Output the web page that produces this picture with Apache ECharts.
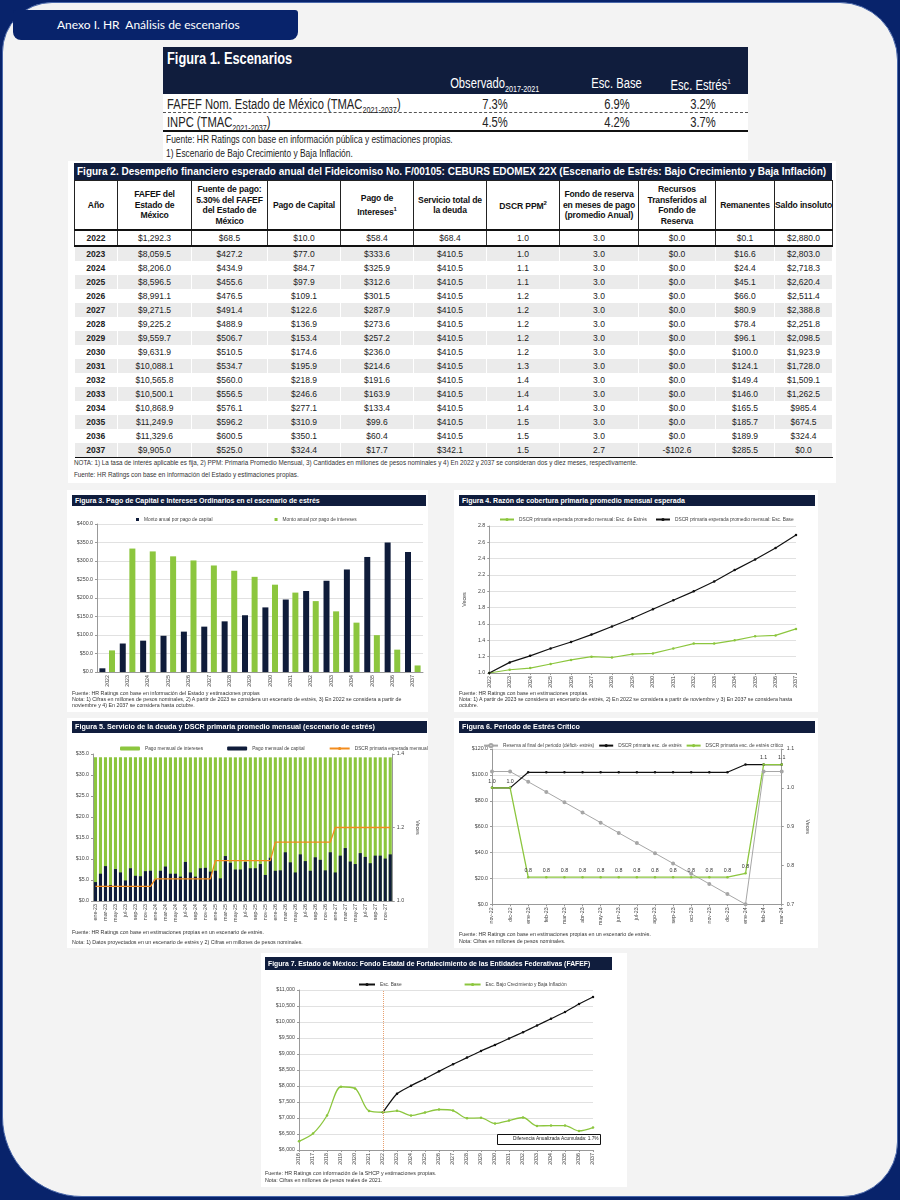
<!DOCTYPE html>
<html>
<head>
<meta charset="utf-8">
<script src="https://cdn.jsdelivr.net/npm/echarts@6/dist/echarts.min.js"></script>
<style>
body{margin:0;width:900px;height:1200px;background:#08236b;position:relative;overflow:hidden;font-family:"Liberation Sans",Arial,sans-serif}
.abs{position:absolute}
#panel{left:2px;top:2px;width:894px;height:1193px;background:#f3f3f3;border:1px solid #4a68aa;border-radius:50px 58px 55px 80px}
#tab{left:13px;top:10px;width:285px;height:30px;background:#08236b;border-radius:3px 3px 8px 8px;color:#fff;font:12px Lato,"Open Sans",sans-serif;line-height:30px;padding-left:44px;box-sizing:border-box;white-space:pre}
.fig{background:#fff}
.tbar{background:#101d3d;color:#fff;font-weight:bold;white-space:nowrap;overflow:hidden;box-sizing:border-box;padding-left:3px}
.note{font-size:5.3px;color:#333;white-space:nowrap;line-height:7px}
.nw{white-space:nowrap}
.nw span{display:inline-block;transform:scaleX(0.8)}
#t2{border-collapse:collapse;table-layout:fixed;width:758px;font-family:"Liberation Sans",Arial,sans-serif}
#t2 td{text-align:center;font-size:8.5px;color:#222;padding:0;height:14px;border-right:1px solid #fff;white-space:nowrap}
#t2 tr.hd td{font-weight:bold;font-size:8.6px;line-height:10.5px;border:1px solid #222;border-bottom:2px solid #111;height:48px;color:#111;white-space:nowrap;letter-spacing:-0.15px}
#t2 tr.r22 td{border:1px solid #333;border-bottom:2px solid #111}
#t2 tr.g td{background:#ebebeb}
#t2 td.y{font-weight:bold}
</style>
</head>
<body>
<div id="panel" class="abs"></div>
<div id="tab" class="abs">Anexo I. HR  Análisis de escenarios</div>

<div id="f1" class="abs fig" style="left:163px;top:47px;width:585px;height:113px"></div>

<div class="abs fig" style="left:68px;top:161px;width:768px;height:322px"></div>
<div class="abs tbar" style="left:74px;top:163px;width:758px;height:17px;font-size:10px;line-height:17px">Figura 2. Desempeño financiero esperado anual del Fideicomiso No. F/00105: CEBURS EDOMEX 22X (Escenario de Estrés: Bajo Crecimiento y Baja Inflación)</div>
<table id="t2" class="abs" style="left:74px;top:180px"></table>
<div class="abs note" style="left:74px;top:459px;font-size:6.3px">NOTA: 1) La tasa de interés aplicable es fija, 2) PPM: Primaria Promedio Mensual, 3) Cantidades en millones de pesos nominales y 4) En 2022 y 2037 se consideran dos y diez meses, respectivamente.</div>
<div class="abs note" style="left:74px;top:471px;font-size:6.3px">Fuente: HR Ratings con base en información del Estado y estimaciones propias.</div>

<div class="abs fig" style="left:67px;top:490px;width:361px;height:222px"></div>
<div class="abs tbar" style="left:72px;top:495px;width:354px;height:11px;font-size:7px;line-height:11px">Figura 3. Pago de Capital e Intereses Ordinarios en el escenario de estrés</div>
<div id="c3" class="abs" style="left:67px;top:506px;width:361px;height:186px"></div>
<div class="abs note" style="left:72px;top:690px">Fuente: HR Ratings con base en información del Estado y estimaciones propias</div>
<div class="abs note" style="left:72px;top:696px">Nota: 1) Cifras en millones de pesos nominales, 2) A partir de 2023 se considera un escenario de estrés, 3) En 2022 se considera a partir de</div>
<div class="abs note" style="left:72px;top:702px">noviembre y 4) En 2037 se considera hasta octubre.</div>

<div class="abs fig" style="left:454px;top:490px;width:364px;height:222px"></div>
<div class="abs tbar" style="left:459px;top:495px;width:356px;height:11px;font-size:7px;line-height:11px">Figura 4. Razón de cobertura primaria promedio mensual esperada</div>
<div id="c4" class="abs" style="left:454px;top:506px;width:364px;height:186px"></div>
<div class="abs note" style="left:459px;top:690px">Fuente: HR Ratings con base en estimaciones propias.</div>
<div class="abs note" style="left:459px;top:696px">Nota: 1) A partir de 2023 se considera un escenario de estrés, 2) En 2022 se considera a partir de noviembre y 3) En 2037 se considera hasta</div>
<div class="abs note" style="left:459px;top:702px">octubre.</div>

<div class="abs fig" style="left:67px;top:718px;width:361px;height:230px"></div>
<div class="abs tbar" style="left:72px;top:721px;width:355px;height:12px;font-size:7.2px;line-height:12px">Figura 5. Servicio de la deuda y DSCR primaria promedio mensual (escenario de estrés)</div>
<div id="c5" class="abs" style="left:67px;top:734px;width:361px;height:192px"></div>
<div class="abs note" style="left:72px;top:929px">Fuente: HR Ratings con base en estimaciones propias en un escenario de estrés.</div>
<div class="abs note" style="left:72px;top:939px">Nota: 1) Datos proyectados en un escenario de estrés y 2) Cifras en millones de pesos nominales.</div>

<div class="abs fig" style="left:454px;top:718px;width:364px;height:230px"></div>
<div class="abs tbar" style="left:459px;top:721px;width:356px;height:12px;font-size:7.2px;line-height:12px">Figura 6. Periodo de Estrés Crítico</div>
<div id="c6" class="abs" style="left:454px;top:734px;width:364px;height:194px"></div>
<div class="abs note" style="left:459px;top:931px">Fuente: HR Ratings con base en estimaciones propias en un escenario de estrés.</div>
<div class="abs note" style="left:459px;top:938px">Nota: Cifras en millones de pesos nominales.</div>

<div class="abs fig" style="left:261px;top:953px;width:366px;height:234px"></div>
<div class="abs tbar" style="left:265px;top:957px;width:347px;height:13px;font-size:6.8px;line-height:13px">Figura 7. Estado de México: Fondo Estatal de Fortalecimiento de las Entidades Federativas  (FAFEF)</div>
<div id="c7" class="abs" style="left:261px;top:970px;width:366px;height:200px"></div>
<div class="abs note" style="left:265px;top:1170px">Fuente: HR Ratings con información de la SHCP y estimaciones propias.</div>
<div class="abs note" style="left:265px;top:1177px">Nota: Cifras en millones de pesos reales de 2021.</div>

<script>
// Figura 1
const fig1Labels = ['FAFEF Nom. Estado de México (TMAC', 'INPC (TMAC'];
const fig1Subs = ['2021-2037', '2021-2037'];
const fig1Obs = [7.3, 4.5];
const fig1Base = [6.9, 4.2];
const fig1Estres = [3.2, 3.7];

// Figura 2 (tabla anual)
const anios = [2022, 2023, 2024, 2025, 2026, 2027, 2028, 2029, 2030, 2031, 2032, 2033, 2034, 2035, 2036, 2037];
const fafef = [1292.3, 8059.5, 8206.0, 8596.5, 8991.1, 9271.5, 9225.2, 9559.7, 9631.9, 10088.1, 10565.8, 10500.1, 10868.9, 11249.9, 11329.6, 9905.0];
const fuentePago = [68.5, 427.2, 434.9, 455.6, 476.5, 491.4, 488.9, 506.7, 510.5, 534.7, 560.0, 556.5, 576.1, 596.2, 600.5, 525.0];
const pagoCapital = [10.0, 77.0, 84.7, 97.9, 109.1, 122.6, 136.9, 153.4, 174.6, 195.9, 218.9, 246.6, 277.1, 310.9, 350.1, 324.4];
const pagoIntereses = [58.4, 333.6, 325.9, 312.6, 301.5, 287.9, 273.6, 257.2, 236.0, 214.6, 191.6, 163.9, 133.4, 99.6, 60.4, 17.7];
const servicioDeuda = [68.4, 410.5, 410.5, 410.5, 410.5, 410.5, 410.5, 410.5, 410.5, 410.5, 410.5, 410.5, 410.5, 410.5, 410.5, 342.1];
const dscrPPM = [1.0, 1.0, 1.1, 1.1, 1.2, 1.2, 1.2, 1.2, 1.2, 1.3, 1.4, 1.4, 1.4, 1.5, 1.5, 1.5];
const fondoMeses = [3.0, 3.0, 3.0, 3.0, 3.0, 3.0, 3.0, 3.0, 3.0, 3.0, 3.0, 3.0, 3.0, 3.0, 3.0, 2.7];
const recursosFondo = [0.0, 0.0, 0.0, 0.0, 0.0, 0.0, 0.0, 0.0, 0.0, 0.0, 0.0, 0.0, 0.0, 0.0, 0.0, -102.6];
const remanentes = [0.1, 16.6, 24.4, 45.1, 66.0, 80.9, 78.4, 96.1, 100.0, 124.1, 149.4, 146.0, 165.5, 185.7, 189.9, 285.5];
const saldoInsoluto = [2880.0, 2803.0, 2718.3, 2620.4, 2511.4, 2388.8, 2251.8, 2098.5, 1923.9, 1728.0, 1509.1, 1262.5, 985.4, 674.5, 324.4, 0.0];

// Figura 4
const dscrEstresAnual = [1.00, 1.04, 1.06, 1.11, 1.16, 1.20, 1.19, 1.23, 1.24, 1.30, 1.36, 1.36, 1.40, 1.45, 1.46, 1.54];
const dscrBaseAnual = [1.00, 1.13, 1.21, 1.30, 1.38, 1.47, 1.57, 1.67, 1.78, 1.89, 2.00, 2.12, 2.26, 2.39, 2.53, 2.69];

// Figura 5 (mensual 2023-2027)
const meses = ['ene', 'feb', 'mar', 'abr', 'may', 'jun', 'jul', 'ago', 'sep', 'oct', 'nov', 'dic'];
const aniosMes = ['23', '24', '25', '26', '27'];
const capitalMensual = [
  4.5, 6.5, 8.3, 3.8, 7.6, 6.8, 4.9, 7.8, 6.0, 5.9, 7.1, 7.2,
  5.2, 7.2, 8.2, 6.5, 6.5, 5.8, 9.3, 6.8, 5.8, 7.8, 7.9, 7.0,
  7.2, 5.4, 10.7, 9.1, 7.5, 7.5, 9.3, 7.8, 7.8, 8.8, 6.2, 10.3,
  7.2, 7.3, 11.6, 9.2, 6.8, 11.1, 9.5, 7.2, 10.4, 9.8, 7.3, 11.6,
  6.8, 10.8, 12.6, 9.4, 8.8, 11.4, 10.5, 9.0, 10.8, 10.8, 10.1, 11.1];
const interesesMensual = [
  29.7, 27.7, 25.9, 30.4, 26.6, 27.4, 29.3, 26.4, 28.2, 28.3, 27.1, 27.0,
  29.0, 27.0, 26.0, 27.7, 27.7, 28.4, 24.9, 27.4, 28.4, 26.4, 26.3, 27.2,
  27.0, 28.8, 23.5, 25.1, 26.7, 26.7, 24.9, 26.4, 26.4, 25.4, 28.0, 23.9,
  27.0, 26.9, 22.6, 25.0, 27.4, 23.1, 24.7, 27.0, 23.8, 24.4, 26.9, 22.6,
  27.4, 23.4, 21.6, 24.8, 25.4, 22.8, 23.7, 25.2, 23.4, 23.4, 24.1, 23.1];
const dscrMensual = [
  1.04, 1.04, 1.04, 1.04, 1.04, 1.04, 1.04, 1.04, 1.04, 1.04, 1.04, 1.04,
  1.06, 1.06, 1.06, 1.06, 1.06, 1.06, 1.06, 1.06, 1.06, 1.06, 1.06, 1.06,
  1.11, 1.11, 1.11, 1.11, 1.11, 1.11, 1.11, 1.11, 1.11, 1.11, 1.11, 1.11,
  1.16, 1.16, 1.16, 1.16, 1.16, 1.16, 1.16, 1.16, 1.16, 1.16, 1.16, 1.16,
  1.20, 1.20, 1.20, 1.20, 1.20, 1.20, 1.20, 1.20, 1.20, 1.20, 1.20, 1.20];

// Figura 6
const periodos6 = ['nov-22', 'dic-22', 'ene-23', 'feb-23', 'mar-23', 'abr-23', 'may-23', 'jun-23', 'jul-23', 'ago-23', 'sep-23', 'oct-23', 'nov-23', 'dic-23', 'ene-24', 'feb-24', 'mar-24'];
const reservaFinal = [102.6, 102.6, 94.7, 86.8, 78.9, 71.0, 63.1, 55.2, 47.3, 39.5, 31.6, 23.7, 15.8, 7.9, 0.0, 102.6, 102.6];
const dscrEstres6 = [1.00, 1.00, 1.04, 1.04, 1.04, 1.04, 1.04, 1.04, 1.04, 1.04, 1.04, 1.04, 1.04, 1.04, 1.06, 1.06, 1.06];
const dscrCritico6 = [1.00, 1.00, 0.77, 0.77, 0.77, 0.77, 0.77, 0.77, 0.77, 0.77, 0.77, 0.77, 0.77, 0.77, 0.78, 1.06, 1.06];

// Figura 7
const aniosFafef = ['2016', '2017', '2018', '2019', '2020', '2021', '2022', '2023', '2024', '2025', '2026', '2027', '2028', '2029', '2030', '2031', '2032', '2033', '2034', '2035', '2036', '2037'];
const fafefBase = [null, null, null, null, null, null, 7180, 7757, 8008, 8228, 8458, 8678, 8887, 9096, 9285, 9483, 9682, 9891, 10100, 10310, 10561, 10780];
const fafefEstres = [6272, 6513, 7077, 7977, 7925, 7220, 7180, 7224, 7077, 7172, 7266, 7234, 6994, 7004, 6826, 6920, 7015, 6753, 6763, 6763, 6596, 6700];

const NAVY = '#0f1c3a', GREEN = '#8cc63e', TXT = '#444';

// ---- tablas ----
const money = v => (v < 0 ? '-' : '') + '$' + Math.abs(v).toLocaleString('en-US', {minimumFractionDigits: 1, maximumFractionDigits: 1});
const pct = v => v.toFixed(1) + '%';

// Figura 1: texto angosto (tipo Arial Narrow) con scaleX
const f1 = document.getElementById('f1');
function txt1(html, x, y, align, css) {
  const d = document.createElement('div');
  d.className = 'abs nw';
  const w = 240;
  const left = align === 'center' ? x - w / 2 : x;
  d.style.cssText = `left:${left}px;top:${y}px;width:${w}px;text-align:${align};font-size:14px;line-height:16px;color:#222;${css || ''}`;
  d.innerHTML = `<span style="transform-origin:${align === 'center' ? 'center' : 'left'}">${html}</span>`;
  f1.appendChild(d);
}
function bar1(y, h, css) {
  const d = document.createElement('div');
  d.className = 'abs';
  d.style.cssText = `left:0;top:${y}px;width:585px;height:${h}px;${css}`;
  f1.appendChild(d);
}
bar1(0, 24, 'background:#101d3d');
bar1(24, 23, 'background:#101d3d');
bar1(65, 0, 'border-top:1px dashed #555');
bar1(83, 0, 'border-top:2px solid #111');
txt1('Figura 1. Escenarios', 4, 4, 'left', 'color:#fff;font-weight:bold;font-size:16px');
txt1('Observado<sub style="font-size:9px">2017-2021</sub>', 332, 28, 'center', 'color:#fff');
txt1('Esc. Base', 454, 28, 'center', 'color:#fff');
txt1('Esc. Estrés<sup style="font-size:8px">1</sup>', 538, 27, 'center', 'color:#fff');
fig1Labels.forEach((l, i) => {
  const y = 49 + i * 18;
  txt1(`${l}<sub style="font-size:9px">${fig1Subs[i]}</sub>)`, 4, y, 'left');
  txt1(pct(fig1Obs[i]), 332, y, 'center');
  txt1(pct(fig1Base[i]), 454, y, 'center');
  txt1(pct(fig1Estres[i]), 540, y, 'center');
});
txt1('Fuente: HR Ratings con base en información pública y estimaciones propias.', 3, 86, 'left', 'font-size:10.5px;line-height:12px');
txt1('1) Escenario de Bajo Crecimiento y Baja Inflación.', 3, 100, 'left', 'font-size:10.5px;line-height:12px');

// Figura 2
const heads = ['Año', 'FAFEF del<br>Estado de<br>México', 'Fuente de pago:<br>5.30% del FAFEF<br>del Estado de<br>México', 'Pago de Capital',
  'Pago de<br>Intereses<sup style="font-size:6px">1</sup>', 'Servicio total de<br>la deuda', 'DSCR PPM<sup style="font-size:6px">2</sup>',
  'Fondo de reserva<br>en meses de pago<br>(promedio Anual)', 'Recursos<br>Transferidos al<br>Fondo de<br>Reserva', 'Remanentes', 'Saldo insoluto'];
const widths = [43, 74, 76, 73, 73, 73, 73, 79, 77, 59, 58];
let h2 = '<colgroup>' + widths.map(w => `<col style="width:${w}px">`).join('') + '</colgroup>';
h2 += '<tr class="hd">' + heads.map(t => `<td>${t}</td>`).join('') + '</tr>';
anios.forEach((a, i) => {
  const cls = i === 0 ? 'r22' : (i % 2 === 1 ? 'g' : '');
  const cells = [a, money(fafef[i]), money(fuentePago[i]), money(pagoCapital[i]), money(pagoIntereses[i]), money(servicioDeuda[i]),
    dscrPPM[i].toFixed(1), fondoMeses[i].toFixed(1), money(recursosFondo[i]), money(remanentes[i]), money(saldoInsoluto[i])];
  const last = i === anios.length - 1 ? ';border-bottom:1px solid #111' : '';
  h2 += `<tr class="${cls}">` + cells.map((c, j) => `<td class="${j === 0 ? 'y' : ''}" style="${last}">${c}</td>`).join('') + '</tr>';
});
document.getElementById('t2').innerHTML = h2;

// ---- graficas ----
const axLbl = {fontSize: 5.3, color: TXT};
const catAxis = (data, extra) => Object.assign({
  type: 'category', data: data,
  axisLine: {lineStyle: {color: '#999'}}, axisTick: {show: true, length: 2, lineStyle: {color: '#999'}},
  axisLabel: Object.assign({rotate: 90, interval: 0, margin: 3}, axLbl)
}, extra || {});
const valAxis = extra => Object.assign({
  type: 'value', axisLine: {show: true, lineStyle: {color: '#999'}}, axisTick: {show: true, length: 2, lineStyle: {color: '#999'}},
  splitLine: {lineStyle: {color: '#d9d9d9', width: 0.8}}, axisLabel: Object.assign({margin: 4}, axLbl)
}, extra || {});
const legendBase = {top: 6, orient: 'horizontal', width: 350, textStyle: {fontSize: 4.8, color: TXT}, itemGap: 60};

// Figura 3
const c3 = echarts.init(document.getElementById('c3'));
c3.setOption({
  animation: false,
  legend: Object.assign({}, legendBase, {left: 64, icon: 'rect', itemWidth: 3, itemHeight: 3, itemGap: 62}),
  grid: {left: 30, right: 5, top: 18, bottom: 20},
  xAxis: catAxis(anios.map(String), {axisTick: {show: false}}),
  yAxis: valAxis({min: 0, max: 400, interval: 50, axisLabel: Object.assign({margin: 4, formatter: v => '$' + v.toFixed(1)}, axLbl)}),
  series: [
    {name: 'Monto anual por pago de capital', type: 'bar', data: pagoCapital, barWidth: 6, barGap: '60%', itemStyle: {color: NAVY}},
    {name: 'Monto anual por pago de intereses', type: 'bar', data: pagoIntereses, barWidth: 6, itemStyle: {color: GREEN}}
  ]
});

// Figura 4
const c4 = echarts.init(document.getElementById('c4'));
c4.setOption({
  animation: false,
  legend: Object.assign({}, legendBase, {left: 40, itemWidth: 14, itemHeight: 4, itemGap: 8}),
  grid: {left: 32, right: 22, top: 20, bottom: 19},
  xAxis: catAxis(anios.map(String), {boundaryGap: false}),
  yAxis: valAxis({min: 1.0, max: 2.8, interval: 0.2, name: 'Veces', nameLocation: 'middle', nameGap: 14, nameTextStyle: {fontSize: 5.3, color: TXT},
    axisLabel: Object.assign({margin: 4, formatter: v => v.toFixed(1)}, axLbl)}),
  series: [
    {name: 'DSCR primaria esperada promedio mensual: Esc. de Estrés', type: 'line', data: dscrEstresAnual, symbol: 'circle', symbolSize: 2.5,
      lineStyle: {color: GREEN, width: 1.2}, itemStyle: {color: GREEN}},
    {name: 'DSCR primaria esperada promedio mensual: Esc. Base', type: 'line', data: dscrBaseAnual, symbol: 'circle', symbolSize: 2.5,
      lineStyle: {color: '#111', width: 1.2}, itemStyle: {color: '#111'}}
  ]
});

// Figura 5: barras de capital dibujadas delante de la barra total (capital + intereses)
const etiquetasMes = [];
aniosMes.forEach(a => meses.forEach(m => etiquetasMes.push(m + '-' + a)));
const totalMensual = interesesMensual.map((v, i) => +(v + capitalMensual[i]).toFixed(1));
const c5 = echarts.init(document.getElementById('c5'));
c5.setOption({
  animation: false,
  legend: Object.assign({}, legendBase, {top: 7, left: 48, itemWidth: 20, itemHeight: 4, itemGap: 24}),
  grid: {left: 26, right: 24, top: 20, bottom: 25},
  xAxis: catAxis(etiquetasMes, {axisTick: {show: false}, axisLabel: Object.assign({rotate: 90, interval: 1, margin: 3}, axLbl)}),
  yAxis: [
    valAxis({min: 0, max: 35, interval: 5, splitLine: {show: false}, axisLabel: Object.assign({margin: 4, formatter: v => '$' + v.toFixed(1)}, axLbl)}),
    valAxis({min: 1.0, max: 1.4, interval: 0.2, position: 'right', splitLine: {show: false}, name: 'Veces', nameLocation: 'middle', nameRotate: -90, nameGap: 14,
      nameTextStyle: {fontSize: 5.3, color: TXT}, axisLabel: Object.assign({margin: 4, formatter: v => v.toFixed(1)}, axLbl)})
  ],
  series: [
    {name: 'Pago mensual de intereses', type: 'bar', data: totalMensual, barWidth: '62%', itemStyle: {color: GREEN}, z: 2},
    {name: 'Pago mensual de capital', type: 'bar', data: capitalMensual, barWidth: '62%', barGap: '-100%', itemStyle: {color: NAVY}, z: 3},
    {name: 'DSCR primaria esperada mensual', type: 'line', yAxisIndex: 1, data: dscrMensual, symbol: 'none', lineStyle: {color: '#f28c1e', width: 1.3},
      itemStyle: {color: '#f28c1e'}, z: 5}
  ]
});

// Figura 6
const c6 = echarts.init(document.getElementById('c6'));
c6.setOption({
  animation: false,
  legend: Object.assign({}, legendBase, {top: 4, left: 24, itemWidth: 14, itemHeight: 4, itemGap: 4}),
  grid: {left: 38, right: 34, top: 15, bottom: 21},
  xAxis: catAxis(periodos6, {boundaryGap: false}),
  yAxis: [
    valAxis({min: 0, max: 120, interval: 20, axisLabel: Object.assign({margin: 4, formatter: v => '$' + v.toFixed(1)}, axLbl)}),
    valAxis({min: 0.7, max: 1.1, interval: 0.1, position: 'right', splitLine: {show: false}, name: 'Veces', nameLocation: 'middle', nameRotate: -90, nameGap: 16,
      nameTextStyle: {fontSize: 5.3, color: TXT}, axisLabel: Object.assign({margin: 5, formatter: v => v.toFixed(1)}, axLbl)})
  ],
  series: [
    {name: 'Reserva al final del periodo (déficit- estrés)', type: 'line', data: reservaFinal, symbol: 'emptyCircle', symbolSize: 2,
      lineStyle: {color: '#a6a6a6', width: 1}, itemStyle: {color: '#a6a6a6'}},
    {name: 'DSCR primaria esc. de estrés', type: 'line', yAxisIndex: 1, data: dscrEstres6, symbol: 'circle', symbolSize: 2.5,
      lineStyle: {color: '#111', width: 1.2}, itemStyle: {color: '#111'}},
    {name: 'DSCR primaria esc. de estrés crítico', type: 'line', yAxisIndex: 1, data: dscrCritico6, symbol: 'circle', symbolSize: 2.5,
      lineStyle: {color: GREEN, width: 1.3}, itemStyle: {color: GREEN},
      label: {show: true, position: 'top', distance: 3, fontSize: 5.3, color: '#333', formatter: p => p.value.toFixed(1)}}
  ]
});

// Figura 7
const c7 = echarts.init(document.getElementById('c7'));
c7.setOption({
  animation: false,
  legend: Object.assign({}, legendBase, {top: 7, left: 92, itemWidth: 16, itemHeight: 4, itemGap: 62}),
  grid: {left: 38, right: 34, top: 20, bottom: 20},
  xAxis: catAxis(aniosFafef, {boundaryGap: false}),
  yAxis: valAxis({min: 6000, max: 11000, interval: 500, axisLabel: Object.assign({margin: 4, formatter: v => '$' + v.toLocaleString('en-US')}, axLbl)}),
  graphic: [
    {type: 'rect', left: 236, top: 164, shape: {width: 103, height: 10}, style: {fill: '#fff', stroke: '#111', lineWidth: 1}, z: 10},
    {type: 'text', left: 252, top: 166.5, style: {text: 'Diferencia Anualizada Acumulada: 1.7%', fontSize: 4.8, fill: '#222'}, z: 11}
  ],
  series: [
    {name: 'Esc. Base', type: 'line', data: fafefBase, smooth: 0.2, symbol: 'circle', symbolSize: 2.5,
      lineStyle: {color: '#111', width: 1.2}, itemStyle: {color: '#111'},
      markLine: {silent: true, symbol: 'none', label: {show: false}, lineStyle: {color: '#e8a070', type: 'dotted', width: 1}, data: [{xAxis: '2022'}]}},
    {name: 'Esc. Bajo Crecimiento y Baja Inflación', type: 'line', data: fafefEstres, smooth: 0.3, symbol: 'circle', symbolSize: 2.5,
      lineStyle: {color: GREEN, width: 1.3}, itemStyle: {color: GREEN}}
  ]
});
</script>
</body>
</html>
